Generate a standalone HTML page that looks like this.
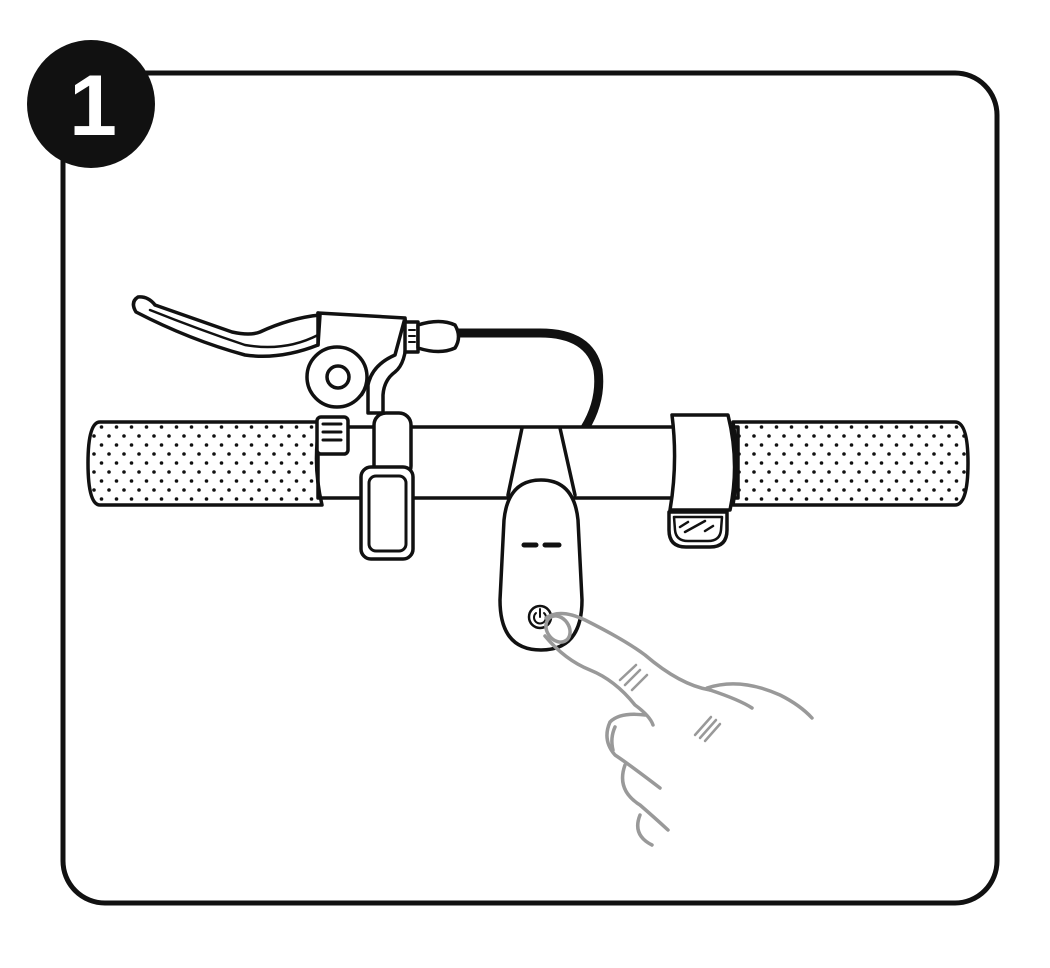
<!DOCTYPE html>
<html><head><style>html,body{margin:0;padding:0;background:#fff}svg{display:block}</style></head>
<body>
<svg width="1050" height="968" viewBox="0 0 1050 968" xmlns="http://www.w3.org/2000/svg">
<defs>
<pattern id="dots" x="0" y="0" width="15" height="18" patternUnits="userSpaceOnUse">
<circle cx="4" cy="4" r="1.8" fill="#111"/>
<circle cx="11.5" cy="13" r="1.8" fill="#111"/>
</pattern>
</defs>
<rect x="63" y="73" width="934" height="830" rx="42" fill="#fff" stroke="#111" stroke-width="5"/>
<circle cx="91" cy="104" r="64" fill="#111"/>
<text x="93" y="135" text-anchor="middle" font-family="Liberation Sans, sans-serif" font-weight="bold" font-size="86" fill="#fff">1</text>

<g fill="none" stroke="#111" stroke-width="3.5" stroke-linejoin="round" stroke-linecap="round">
<path d="M455,333 L540,333 Q590,333 598,370 Q602,400 585,428" stroke-width="9"/>
<rect x="318" y="427" width="420" height="71" fill="#fff"/>
<path d="M100,422 L320,422 Q312,463 322,505 L100,505 Q88,505 88,463 Q88,422 100,422 Z" fill="url(#dots)"/>
<path d="M733,422 L955,422 Q968,422 968,463 Q968,505 955,505 L733,505 Q740,463 733,422 Z" fill="url(#dots)"/>
<path d="M672,415 L728,415 Q740,463 730,510 L670,510 Q678,463 672,415 Z" fill="#fff"/>
<path d="M669,512 L727,512 L727,530 Q727,547 710,547 L686,547 Q669,547 669,530 Z" fill="#fff"/>
<path d="M674,517 L722,517 L721,530 Q720,541 708,541 L688,541 Q676,541 675,530 Z" stroke-width="2.5"/>
<path d="M680,527 L688,522 M685,532 L705,521 M705,531 L713,526" stroke-width="2.5"/>
<path d="M522,428 L508,495 M560,428 L575,495"/>
<path d="M500,600 L504,520 Q508,480 541,480 Q574,480 578,520 L582,600 Q582,650 541,650 Q500,650 500,600 Z" fill="#fff"/>
<path d="M524,545 L536,545 M545,545 L559,545" stroke-width="5"/>
<circle cx="540" cy="617" r="11" stroke-width="2.5"/>
<path d="M536,613 A6,6 0 1 0 544,613 M540,609 L540,617" stroke-width="2"/>
<path d="M138,297 Q130,302 136,312 Q190,340 245,355 Q280,360 318,345 L320,315 Q290,318 260,332 Q250,336 232,332 L155,305 Q148,296 138,297 Z" fill="#fff"/>
<path d="M150,310 Q200,330 245,345 Q285,352 318,335" stroke-width="2.5"/>
<path d="M318,313 L405,318 Q410,360 395,372 Q384,380 383,395 L383,413 L368,413 L368,385 Q372,365 395,355 L405,318" fill="#fff"/>
<path d="M318,313 L318,345"/>
<rect x="405" y="322" width="13" height="30" fill="#fff"/>
<path d="M409,330 L415,330 M409,336 L415,336 M409,342 L415,342" stroke-width="2"/>
<path d="M418,325 Q440,318 455,325 Q462,337 455,348 Q440,355 418,348 Z" fill="#fff"/>
<circle cx="337" cy="377" r="30" fill="#fff"/>
<path d="M362,360 Q372,380 362,395" stroke-width="2.5"/>
<circle cx="338" cy="377" r="11"/>
<rect x="317" y="417" width="31" height="37" rx="4" fill="#fff"/>
<path d="M323,424 L341,424 M323,432 L341,432 M323,440 L341,440" stroke-width="3"/>
<rect x="374" y="413" width="37" height="65" rx="12" fill="#fff"/>
<rect x="361" y="467" width="52" height="92" rx="10" fill="#fff"/>
<rect x="369" y="476" width="37" height="75" rx="7" stroke-width="3"/>
</g>

<g fill="none" stroke="#999" stroke-width="3.5" stroke-linecap="round" stroke-linejoin="round">
<ellipse cx="558" cy="629" rx="11" ry="14" transform="rotate(-35 558 629)"/>
<path d="M546,618 Q560,608 585,620 Q625,640 645,655 Q680,685 710,690"/>
<path d="M707,688 Q740,677 780,695 Q800,705 812,718"/>
<path d="M710,690 Q740,700 752,708"/>
<path d="M545,636 Q565,660 590,670 Q615,680 635,705 Q650,716 653,725"/>
<path d="M645,715 Q620,712 610,722 Q602,740 615,755 Q630,765 660,788"/>
<path d="M615,727 Q610,738 613,750"/>
<path d="M625,765 Q616,790 640,805 Q655,818 668,830"/>
<path d="M640,815 Q632,835 652,845"/>
<path d="M620,680 L636,665 M625,685 L640,670 M632,690 L647,675" stroke-width="2.5"/>
<path d="M695,735 L711,717 M700,738 L716,720 M705,741 L720,724" stroke-width="2.5"/>
</g>
</svg>
</body></html>
